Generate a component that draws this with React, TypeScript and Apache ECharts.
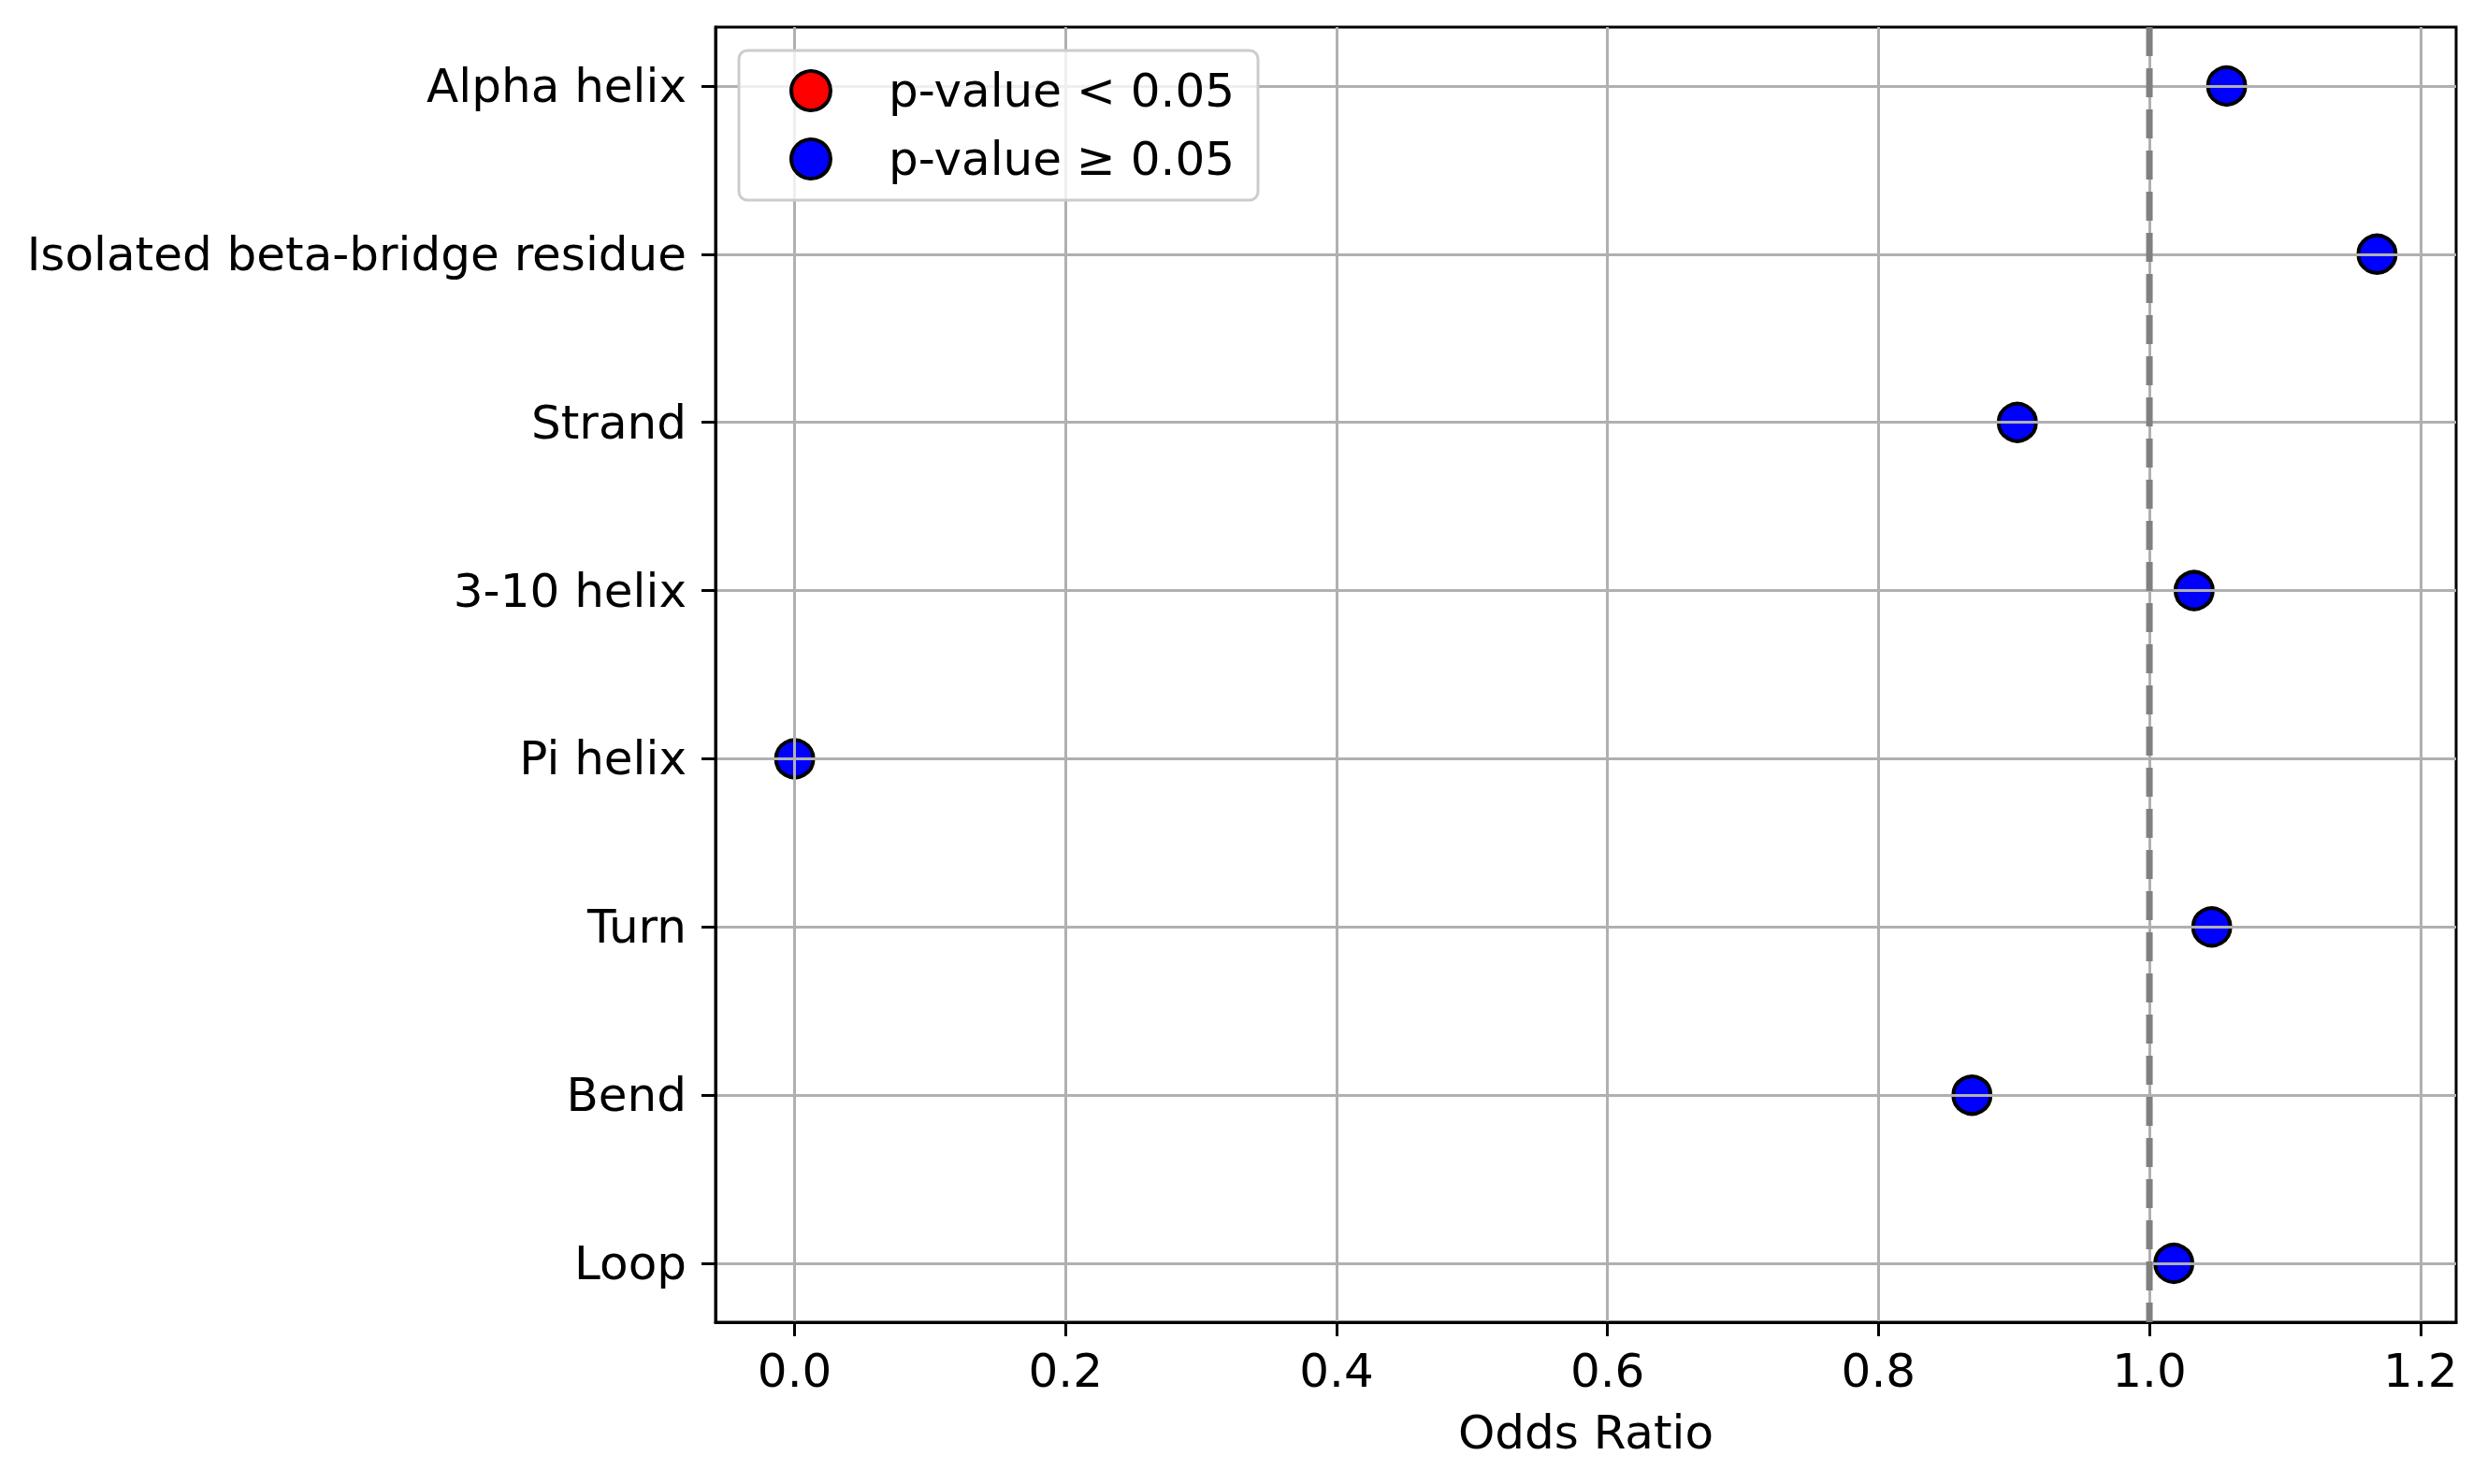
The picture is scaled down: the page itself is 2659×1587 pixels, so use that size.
import React, { useEffect, useRef } from "react";
import * as echarts from "echarts";

const categories = [
  "Alpha helix",
  "Isolated beta-bridge residue",
  "Strand",
  "3-10 helix",
  "Pi helix",
  "Turn",
  "Bend",
  "Loop",
];
const oddsRatios = [1.057, 1.168, 0.9025, 1.033, 0.0, 1.046, 0.869, 1.018];
const significant = [false, false, false, false, false, false, false, false];
const xTicks = [0, 0.2, 0.4, 0.6, 0.8, 1.0, 1.2];
const referenceValue = 1.0;
const legendNames = ["p-value < 0.05", "p-value \u2265 0.05"];

const FONT = "DejaVu Sans";

export default function App() {
  const ref = useRef<HTMLDivElement>(null);
  useEffect(() => {
    document.body.style.margin = "0";
    const chart = echarts.init(ref.current!, null, { renderer: "svg" });

    const dMin = Math.min(...oddsRatios);
    const dMax = Math.max(...oddsRatios);
    const pad = (dMax - dMin) * 0.05;
    const xMin = dMin - pad;
    const xMax = dMax + pad;
    const yPad = (categories.length - 1) * 0.05;
    const yMin = -yPad;
    const yMax = categories.length - 1 + yPad;
    const yIdx = categories.map((_, i) => i);

    const sigData: number[][] = [];
    const nsData: number[][] = [];
    oddsRatios.forEach((v, i) => {
      (significant[i] ? sigData : nsData).push([v, i]);
    });

    const axisLine = { show: true, onZero: false, lineStyle: { color: "#000", width: 3 } };
    const split = { show: true, lineStyle: { color: "#b0b0b0", width: 3 } };

    chart.setOption({
      animation: false,
      backgroundColor: "#fff",
      grid: {
        left: 765,
        top: 29,
        right: 33,
        bottom: 173,
        show: true,
        borderColor: "#000",
        borderWidth: 3,
        backgroundColor: "transparent",
      },
      xAxis: {
        type: "value",
        min: xMin,
        max: xMax,
        z: 3,
        axisLine,
        axisTick: {
          show: true,
          length: 15,
          lineStyle: { color: "#000", width: 3 },
          customValues: xTicks,
        },
        axisLabel: {
          customValues: xTicks,
          formatter: (v: number) => v.toFixed(1),
          fontFamily: FONT,
          fontSize: 50,
          color: "#000",
          margin: 27,
        },
        splitLine: split,
        name: "Odds Ratio",
        nameLocation: "middle",
        nameGap: 93,
        nameTextStyle: { fontFamily: FONT, fontSize: 50, color: "#000" },
      },
      yAxis: {
        type: "value",
        inverse: true,
        min: yMin,
        max: yMax,
        z: 3,
        axisLine,
        axisTick: {
          show: true,
          length: 15,
          lineStyle: { color: "#000", width: 3 },
          customValues: yIdx,
        },
        axisLabel: {
          customValues: yIdx,
          formatter: (v: number) => categories[Math.round(v)] ?? "",
          fontFamily: FONT,
          fontSize: 50,
          color: "#000",
          margin: 31,
        },
        splitLine: split,
      },
      legend: {
        data: legendNames,
        orient: "vertical",
        left: 790,
        top: 54,
        padding: [14, 25, 15, 54],
        itemGap: 15,
        itemWidth: 100,
        itemHeight: 42,
        symbolKeepAspect: true,
        icon: "circle",
        itemStyle: { borderColor: "#000", borderWidth: 4 },
        backgroundColor: "rgba(255,255,255,0.8)",
        borderColor: "#cccccc",
        borderWidth: 3,
        borderRadius: 9,
        z: 10,
        textStyle: {
          fontFamily: FONT,
          fontSize: 50,
          color: "#000",
          lineHeight: 58,
          padding: [0, 0, 0, 28],
        },
      },
      series: [
        {
          name: "ref",
          type: "line",
          data: [
            [referenceValue, yMin],
            [referenceValue, yMax],
          ],
          symbol: "none",
          silent: true,
          z: 4,
          lineStyle: { color: "#808080", width: 7, type: [31, 13] },
        },
        {
          name: legendNames[0],
          type: "scatter",
          data: sigData,
          symbolSize: 40,
          z: 2,
          itemStyle: { color: "#ff0000", borderColor: "#000", borderWidth: 4, opacity: 1 },
        },
        {
          name: legendNames[1],
          type: "scatter",
          data: nsData,
          symbolSize: 40,
          z: 2,
          itemStyle: { color: "#0000ff", borderColor: "#000", borderWidth: 4, opacity: 1 },
        },
      ],
    });
    return () => chart.dispose();
  }, []);
  return <div ref={ref} style={{ width: 2659, height: 1587 }} />;
}
